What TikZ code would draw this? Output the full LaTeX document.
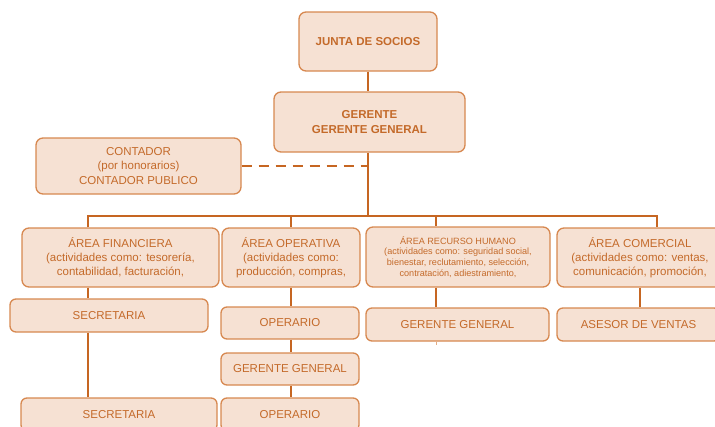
\documentclass[tikz,border=0pt]{standalone}
\usepackage{fontspec}
\setmainfont{Liberation Sans}
\usetikzlibrary{calc}
\definecolor{boxfill}{RGB}{246,225,211}
\definecolor{boxline}{RGB}{215,136,80}
\definecolor{boxtext}{RGB}{196,106,42}
\definecolor{linkcol}{RGB}{198,102,34}
\begin{document}
\begin{tikzpicture}[x=1pt,y=-1pt,
  box/.style={draw=boxline, fill=boxfill, line width=1.3pt, rounded corners=7pt,
    text=boxtext, align=center, inner sep=0pt,
    font=\fontsize{11.5}{14.2}\selectfont},
  bigbox/.style={box, font=\fontsize{11.5}{14.2}\selectfont\bfseries},
  smallbox/.style={box, font=\fontsize{9.1}{10.8}\selectfont},
  link/.style={draw=linkcol, line width=1.8pt},
  dashseg/.style={draw=linkcol, line width=2pt, line cap=butt}]
\useasboundingbox (0,0) rectangle (715,426);
\clip (0,0) rectangle (715,426);

% top of the chart
\node[bigbox, minimum width=138pt, minimum height=59pt] (junta) at (368,41.5) {JUNTA DE SOCIOS};
\node[bigbox, minimum width=191pt, minimum height=60pt] (gerente) at (369.5,122) {GERENTE\\GERENTE GENERAL};
\node[box, minimum width=205pt, minimum height=56pt] (contador) at (138.5,166) {CONTADOR\\(por honorarios)\\CONTADOR PUBLICO};

% areas
\node[box, minimum width=197pt, minimum height=59pt] (fin) at (120.5,257.5) {ÁREA FINANCIERA\\(actividades como: tesorería,\\contabilidad, facturación,};
\node[box, minimum width=138pt, minimum height=59pt] (ope) at (291,257.5) {ÁREA OPERATIVA\\(actividades como:\\producción, compras,};
\node[smallbox, minimum width=184pt, minimum height=60pt] (rrhh) at (458,257) {ÁREA RECURSO HUMANO\\(actividades como: seguridad social,\\bienestar, reclutamiento, selección,\\contratación, adiestramiento,};
\node[box, minimum width=166pt, minimum height=59pt] (com) at (640,257.5) {ÁREA COMERCIAL\\(actividades como: ventas,\\comunicación, promoción,};

% staff
\node[box, minimum width=198pt, minimum height=33pt, rounded corners=6pt] (sec1) at (109,315.5) {SECRETARIA};
\node[box, minimum width=196pt, minimum height=33pt, rounded corners=6pt] (sec2) at (119,414.5) {SECRETARIA};
\node[box, minimum width=138pt, minimum height=32pt, rounded corners=6pt] (oper1) at (290,323) {OPERARIO};
\node[box, minimum width=138pt, minimum height=32pt, rounded corners=6pt] (ggop) at (290,369) {GERENTE GENERAL};
\node[box, minimum width=138pt, minimum height=33pt, rounded corners=6pt] (oper2) at (290,414.5) {OPERARIO};
\node[box, minimum width=183pt, minimum height=33pt, rounded corners=6pt] (ggrh) at (457.5,324.5) {GERENTE GENERAL};
\node[box, minimum width=163pt, minimum height=33pt, rounded corners=6pt] (asesor) at (638.5,324.5) {ASESOR DE VENTAS};

% bus junctions
\coordinate (bG) at (368,216);
\coordinate (bF) at (88,216);
\coordinate (bO) at (291,216);
\coordinate (bR) at (436,216);
\coordinate (bC) at (657,216);
\coordinate (tick) at (436,345);

% connectors
\draw[link] (junta.south) -- (junta.south |- gerente.north);
\draw[link] (bG |- gerente.south) -- (bG);
% dashed staff link to the main trunk, drawn dash by dash
\foreach \k in {0,17,...,119} {
  \pgfmathsetmacro{\dashend}{min(\k+10,127)}
  \draw[dashseg] ($(contador.east)+(\k,0)$) -- ($(contador.east)+(\dashend,0)$);
}
\draw[link] (bF |- fin.north) -- (bF) -- (bC) -- (bC |- com.north);
\draw[link] (bO) -- (bO |- ope.north);
\draw[link] (bR) -- (bR |- rrhh.north);
\draw[link] (bF |- fin.south) -- (bF |- sec1.north);
\draw[link] (bF |- sec1.south) -- (bF |- sec2.north);
\draw[link] (bO |- ope.south) -- (bO |- oper1.north);
\draw[link] (bO |- oper1.south) -- (bO |- ggop.north);
\draw[link] (bO |- ggop.south) -- (bO |- oper2.north);
\draw[link] (bR |- rrhh.south) -- (bR |- ggrh.north);
\draw[draw=boxline!70, line width=1pt] (bR |- ggrh.south) -- (tick);
\draw[link] (com.south) -- (com.south |- asesor.north);
\end{tikzpicture}
\end{document}
